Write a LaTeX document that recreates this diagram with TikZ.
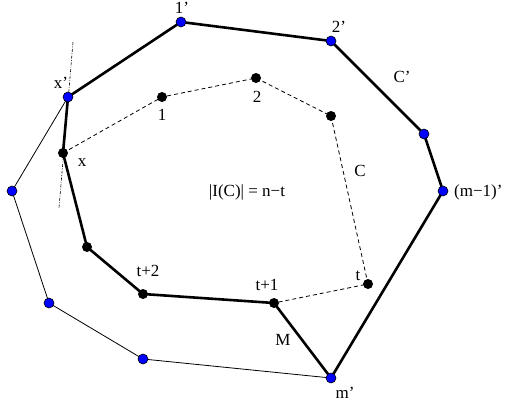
\documentclass[tikz,border=0pt]{standalone}
\usepackage{fontspec}
\setmainfont{Liberation Serif}
\begin{document}
\begin{tikzpicture}[x=1pt,y=-1pt,
  bdot/.style={circle,draw=black,fill=blue,inner sep=0pt,minimum size=10pt,line width=0.6pt},
  kdot/.style={circle,fill=black,inner sep=0pt,minimum size=10pt},
  thickln/.style={line width=2.6pt,line join=round},
  thinln/.style={line width=0.8pt},
  dashln/.style={line width=0.8pt,dash pattern=on 4pt off 3pt},
  tangln/.style={line width=0.6pt,dash pattern=on 3pt off 1.5pt on 0.8pt off 1.5pt},
  lbl/.style={font=\fontsize{17}{19}\selectfont,inner sep=0pt}]
\useasboundingbox (0,0) rectangle (507,405);
% points
\coordinate (p1) at (181,22);
\coordinate (p2) at (331,41);
\coordinate (p3) at (424,134);
\coordinate (pm1) at (443,191);
\coordinate (pm) at (331,378);
\coordinate (px') at (68,97);
\coordinate (q1) at (12,191);
\coordinate (q2) at (49,303);
\coordinate (q3) at (143,359);
\coordinate (c1) at (162,97);
\coordinate (c2) at (256,78);
\coordinate (c3) at (331,116);
\coordinate (ct) at (368,284);
\coordinate (ct1) at (274,303);
\coordinate (ct2) at (143,294);
\coordinate (c4) at (87,247);
\coordinate (cx) at (63,153);
\coordinate (tA) at (73,42);
\coordinate (tB) at (59,208);
% lines
\draw[tangln] (tA) -- (tB);
\draw[thinln] (px') -- (q1) -- (q2) -- (q3) -- (pm);
\draw[dashln] (cx) -- (c1) -- (c2) -- (c3) -- (ct) -- (ct1);
\draw[thickln] (px') -- (p1) -- (p2) -- (p3) -- (pm1) -- (pm) -- (ct1) -- (ct2) -- (c4) -- (cx) -- cycle;
% dots
\foreach \p in {p1,p2,p3,pm1,pm,px',q1,q2,q3} \node[bdot] (d\p) at (\p) {};
\foreach \p in {c1,c2,c3,ct,ct1,ct2,c4,cx} \node[kdot] (d\p) at (\p) {};
% labels
\node[lbl] (l1') at (182,8) {1’};
\node[lbl] (l2') at (339,27) {2’};
\node[lbl] (lC') at (402,77) {C’};
\node[lbl] (lx') at (61,83) {x’};
\node[lbl] (lx) at (82,163) {x};
\node[lbl] (l1) at (162,115) {1};
\node[lbl] (l2) at (257,97) {2};
\node[lbl] (lC) at (360,171) {C};
\node[lbl] (lI) at (247,192) {|I(C)| = n−t};
\node[lbl,anchor=west] (lm1) at (454,192) {(m−1)’};
\node[lbl] (lt2) at (148,271) {t+2};
\node[lbl] (lt1) at (267,285) {t+1};
\node[lbl] (lt) at (358,276) {t};
\node[lbl] (lM) at (283,340) {M};
\node[lbl] (lm) at (345,393) {m’};
\end{tikzpicture}
\end{document}
